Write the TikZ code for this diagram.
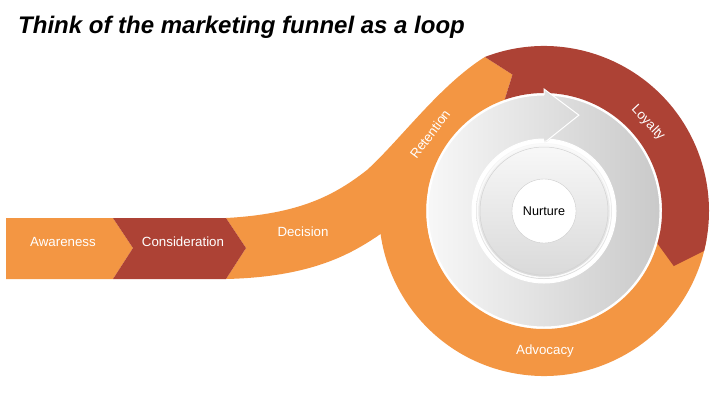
\documentclass[tikz,border=0pt]{standalone}
\usepackage{amsmath,amssymb}
\usepackage{tikz}
\usepackage{fontspec}
\setmainfont{Liberation Sans}
\usetikzlibrary{calc}
\definecolor{funnelorange}{RGB}{243,150,67}
\definecolor{funnelred}{RGB}{173,66,53}

\begin{document}
\begin{tikzpicture}[x=1pt,y=1pt,
		stagetext/.style={text=white, inner sep=0pt, font=\fontsize{13.3}{15}\selectfont}]
		\useasboundingbox (0,0) rectangle (720,-405);
		
		% Define the centre of the loop
		\coordinate (C) at (544,-211);
		
		% Draw the title
		\node[anchor=base west, inner sep=0pt, font=\fontsize{24}{28}\selectfont\bfseries\itshape] (title) at (18,-33) {Think of the marketing funnel as a loop};
		
		% Draw the advocacy part of the ring
		\fill[funnelorange] ($(C)+(-10:165)$) arc[start angle=-10, end angle=-190, radius=165] -- ($(C)+(170:118)$) arc[start angle=170, end angle=350, radius=118] -- cycle;
		
		% Draw the decision band running up into the retention part
		\fill[funnelorange] (226,-218) .. controls (300,-214) and (335,-195) .. (367,-170) .. controls (400,-140) and (440,-85) .. ($(C)+(111:165)$) -- ($(C)+(103:140)$) -- ($(C)+(109.5:118)$) arc[start angle=109.5, end angle=200, radius=118] -- ($(C)+(188:165)$) .. controls (350,-255) and (310,-277) .. (226,-279) -- (246,-248) -- cycle;
		
		% Draw the loyalty part in red
		\fill[funnelred] ($(C)+(111:165)$) arc[start angle=111, end angle=-14, radius=165] -- ($(C)+(-23:141)$) -- ($(C)+(-16:118)$) arc[start angle=-16, end angle=109.5, radius=118] -- ($(C)+(103:140)$) -- cycle;
		
		% Draw the first two stages
		\fill[funnelorange] (6,-218) -- (113,-218) -- (133,-248) -- (113,-279) -- (6,-279) -- cycle;
		\fill[funnelred] (113,-218) -- (226,-218) -- (246,-248) -- (226,-279) -- (113,-279) -- (133,-248) -- cycle;
		
		% Draw the grey circular arrow
		\shadedraw[even odd rule, left color=gray!6, right color=gray!42, draw=white, line width=1pt] (C) circle[radius=116] (C) circle[radius=72];
		\begin{scope}
			\clip ($(C)+(90:122)$) -- ($(C)+(70:102)$) -- ($(C)+(88:69)$) -- ($(C)+(90:69)$) -- cycle;
			\shade[left color=gray!6, right color=gray!42] ($(C)+(-116,-130)$) rectangle ($(C)+(116,130)$);
		\end{scope}
		\draw[white, line width=1pt] ($(C)+(90:116)$) -- ($(C)+(90:122)$) -- ($(C)+(70:102)$) -- ($(C)+(88:70)$) -- ($(C)+(90:70)$);
		
		% Draw the inner disc
		\shade[top color=gray!5, bottom color=gray!30] (C) circle[radius=68];
		\draw[gray!4, line width=1.5pt] (C) circle[radius=66.5];
		\draw[gray!35, line width=0.5pt] (C) circle[radius=64];
		\node[circle, fill=white, draw=gray!40, line width=0.4pt, minimum size=64pt, inner sep=0pt, font=\fontsize{12.6}{14}\selectfont] (nurture) at (C) {Nurture};
		
		% Draw the stage labels
		\node[stagetext] (awareness) at (63,-242) {Awareness};
		\node[stagetext] (consideration) at (183,-242) {Consideration};
		\node[stagetext] (decision) at (303,-232) {Decision};
		\node[stagetext, rotate=53] (retention) at (430,-134) {Retention};
		\node[stagetext, rotate=-47] (loyalty) at (648,-123) {Loyalty};
		\node[stagetext] (advocacy) at (545,-351) {Advocacy};
		
	\end{tikzpicture}
\end{document}
